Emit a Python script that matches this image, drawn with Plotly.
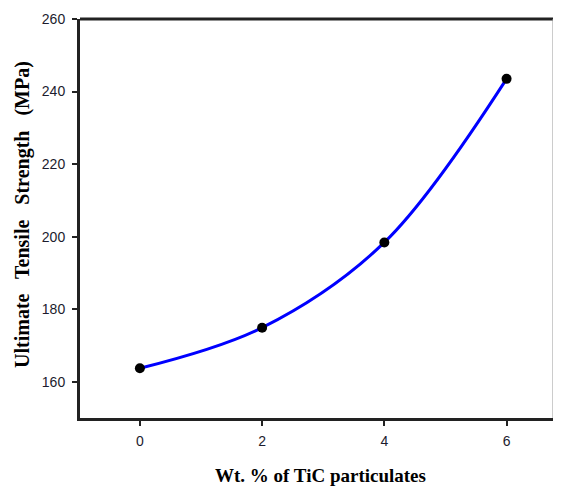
import plotly.graph_objects as go

wt_pct = [0, 2, 4, 6]
uts = [163.7, 174.9, 198.4, 243.5]
x_ticks = [0, 2, 4, 6]
y_ticks = [160, 180, 200, 220, 240, 260]

W, H = 545, 480
L, R, T, B = 72, 0, 11, 70
pw, ph = W - L - R, H - T - B

fig = go.Figure()
fig.add_trace(go.Scatter(
    x=wt_pct, y=uts, mode="lines",
    line=dict(color="#0000ff", width=3, shape="spline", smoothing=1.0),
    showlegend=False, hoverinfo="skip"))
fig.add_trace(go.Scatter(
    x=wt_pct, y=uts, mode="markers",
    marker=dict(color="black", size=10),
    showlegend=False))

tickfont = dict(family="Liberation Sans, Arial", size=14, color="#1c1c2e")
xtitlefont = dict(family="Liberation Serif, Times New Roman", size=19, color="black")
ytitlefont = dict(family="Liberation Serif, Times New Roman", size=20, color="black")

fig.update_layout(
    width=W, height=H,
    margin=dict(l=L, r=R, t=T, b=B),
    paper_bgcolor="white", plot_bgcolor="white",
    xaxis=dict(range=[-0.98, 6.76], tickvals=x_ticks, ticks="outside", ticklen=5,
               tickwidth=2, tickcolor="#222", showgrid=False, zeroline=False,
               showline=True, linecolor="#222", linewidth=3, mirror=False,
               tickfont=tickfont, automargin=False, ticklabelstandoff=3),
    yaxis=dict(range=[150, 260], tickvals=y_ticks, ticks="outside", ticklen=5,
               tickwidth=2, tickcolor="#222", showgrid=False, zeroline=False,
               showline=True, linecolor="#222", linewidth=3, mirror=False,
               tickfont=tickfont, automargin=False, ticklabelstandoff=4),
)
# axis titles placed as annotations (figure px -> paper coords)
fig.add_annotation(text="<b>Wt. % of TiC particulates</b>", xref="paper", yref="paper",
                   x=(312 - L) / pw, y=-(468 - (T + ph)) / ph, showarrow=False,
                   font=xtitlefont, xanchor="center", yanchor="middle")
fig.add_annotation(text="<b>Ultimate   Tensile   Strength   (MPa)</b>", xref="paper", yref="paper",
                   x=-(L - 14) / pw, y=(T + ph - 207) / ph, showarrow=False, textangle=-90,
                   font=ytitlefont, xanchor="center", yanchor="middle")
# top border (dark) and right border (light grey)
fig.add_shape(type="line", xref="paper", yref="paper", x0=0, x1=1, y0=1, y1=1,
              line=dict(color="#222", width=3))
fig.add_shape(type="line", xref="paper", yref="paper", x0=1, x1=1, y0=0, y1=1,
              line=dict(color="#999", width=1))

fig.write_html("out.html")
